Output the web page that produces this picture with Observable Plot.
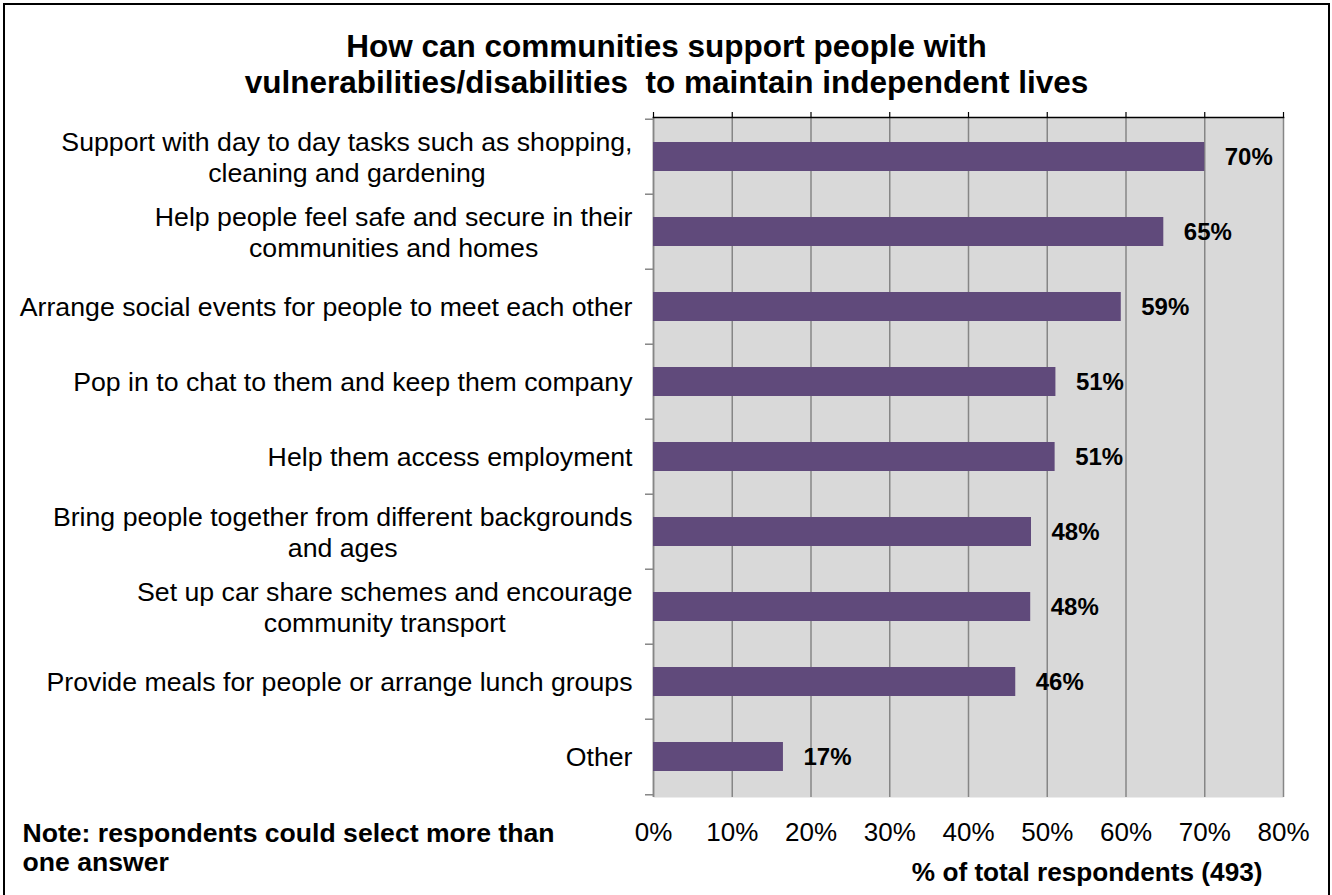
<!DOCTYPE html>
<html>
<head>
<meta charset="utf-8">
<script src="https://cdn.jsdelivr.net/npm/d3@7"></script>
<script src="https://cdn.jsdelivr.net/npm/@observablehq/plot@0.6"></script>
<style>
  html, body { margin: 0; padding: 0; background: #fff; }
  #wrap { position: relative; width: 1332px; height: 895px; overflow: hidden; }
  #border { position: absolute; left: 3px; top: 3px; width: 1323px; height: 900px; border: 2px solid #000; pointer-events: none; }
  svg { display: block; }
</style>
</head>
<body>
<div id="wrap"><div id="chart"></div><div id="border"></div></div>
<script>
const titleText = "How can communities support people with\nvulnerabilities/disabilities  to maintain independent lives";
const noteText = "Note: respondents could select more than\none answer";
const axisTitle = "% of total respondents (493)";

const categories = [
  "Support with day to day tasks such as shopping,\ncleaning and gardening",
  "Help people feel safe and secure in their\ncommunities and homes",
  "Arrange social events for people to meet each other",
  "Pop in to chat to them and keep them company",
  "Help them access employment",
  "Bring people together from different backgrounds\nand ages",
  "Set up car share schemes and encourage\ncommunity transport",
  "Provide meals for people or arrange lunch groups",
  "Other"
];
const values = [70.0, 64.8, 59.4, 51.1, 51.0, 48.0, 47.9, 46.0, 16.5];
const valueLabels = ["70%", "65%", "59%", "51%", "51%", "48%", "48%", "46%", "17%"];
const xTicks = [0, 10, 20, 30, 40, 50, 60, 70, 80];

const data = categories.map((c, i) => ({label: c, value: values[i], text: valueLabels[i]}));

const W = 1332, H = 895;
const mL = 653, mR = 49, mT = 117, mB = 98;
const step = (H - mT - mB) / categories.length;
const font = "'Liberation Sans', Arial, Helvetica, sans-serif";
const labelSize = 26.7;
const labelGap = 21;

const ctx = document.createElement("canvas").getContext("2d");
ctx.font = `${labelSize}px ${font}`;
const maxLineWidth = s => Math.max(...s.split("\n").map(l => ctx.measureText(l).width));

const labelMarks = categories.map(c => c.includes("\n")
  ? Plot.text([c], {y: d => d, text: d => d, frameAnchor: "left", textAnchor: "middle",
      dx: -(labelGap + maxLineWidth(c) / 2), fontSize: labelSize, lineHeight: 1.16, fill: "#000"})
  : Plot.text([c], {y: d => d, text: d => d, frameAnchor: "left", textAnchor: "end",
      dx: -labelGap, fontSize: labelSize, fill: "#000"})
);

const chart = Plot.plot({
  width: W,
  height: H,
  marginLeft: mL,
  marginRight: mR,
  marginTop: mT,
  marginBottom: mB,
  style: {fontFamily: font, color: "#000", background: "transparent", overflow: "visible"},
  x: {domain: [0, 80], ticks: xTicks},
  y: {domain: categories, paddingInner: 0.61, paddingOuter: 0.305, axis: null},
  marks: [
    Plot.frame({fill: "#d9d9d9", stroke: null}),
    Plot.gridX(xTicks, {stroke: "#868686", strokeOpacity: 1, strokeWidth: 1.5}),
    Plot.ruleX([0], {stroke: "#868686", strokeWidth: 1.5}),
    Plot.barX(data, {x: "value", y: "label", fill: "#604a7b"}),
    Plot.text(data, {x: "value", y: "label", text: "text", dx: 20, textAnchor: "start",
      fontWeight: "bold", fontSize: 24, fill: "#000"}),
    Plot.frame({anchor: "top", stroke: "#000", strokeWidth: 1.5}),
    Plot.axisX({anchor: "top", ticks: xTicks, tickSize: 6, tickFormat: () => "", label: null, stroke: "#000", strokeWidth: 1.2}),
    Plot.axisX({anchor: "bottom", ticks: xTicks, tickSize: 0, tickPadding: 25, tickFormat: d => d + "%",
      fontSize: 26, label: null}),
    Plot.axisY({ticks: categories, tickSize: 8, tickFormat: () => "", dy: -step / 2, stroke: "#868686", strokeWidth: 1.5, label: null}),
    Plot.axisY({ticks: [categories[categories.length - 1]], tickSize: 8, tickFormat: () => "", dy: step / 2, stroke: "#868686", strokeWidth: 1.5, label: null}),
    ...labelMarks,
    Plot.text([axisTitle], {text: d => d, frameAnchor: "bottom-right", textAnchor: "end", lineAnchor: "middle",
      dx: -21, dy: 75, fontWeight: "bold", fontSize: 26.2, fill: "#000"}),
    Plot.text([titleText], {text: d => d, frameAnchor: "top-left", textAnchor: "middle", lineAnchor: "middle",
      dx: 13, dy: -54, fontWeight: "bold", fontSize: 31.5, lineHeight: 1.13, fill: "#000"}),
    Plot.text([noteText], {text: d => d, frameAnchor: "bottom-left", textAnchor: "start", lineAnchor: "middle",
      dx: 22 - mL, dy: 50, fontWeight: "bold", fontSize: 26.6, lineHeight: 1.08, fill: "#000"})
  ]
});
document.getElementById("chart").appendChild(chart);
</script>
</body>
</html>
